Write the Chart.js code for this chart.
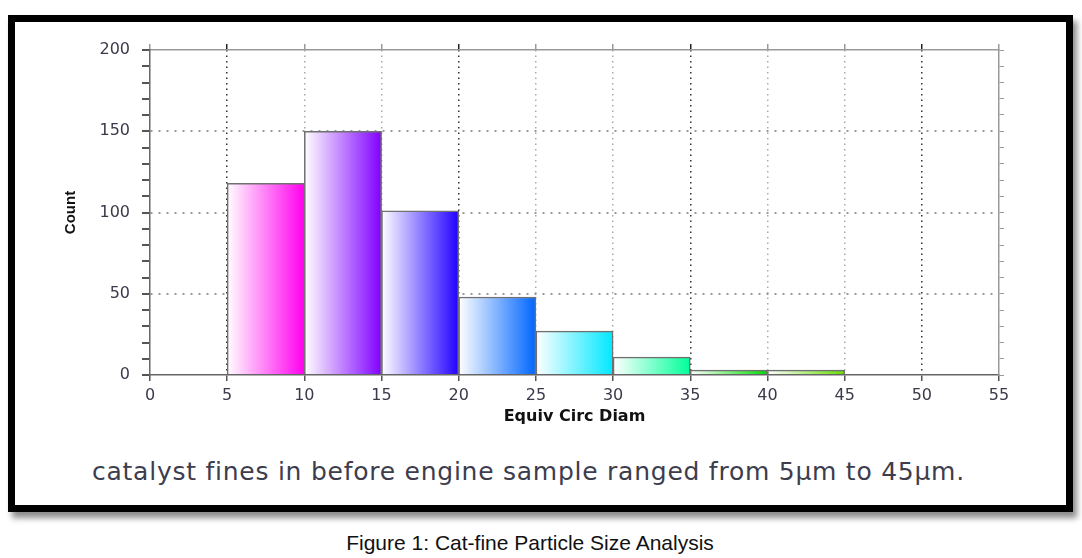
<!DOCTYPE html>
<html>
<head>
<meta charset="utf-8">
<script src="https://cdn.jsdelivr.net/npm/chart.js@4/dist/chart.umd.min.js"></script>
<style>
  body { margin: 0; background: #fff; width: 1082px; height: 558px; position: relative; overflow: hidden; }
  #frame { position: absolute; left: 8px; top: 15px; width: 1051px; height: 483px; border: 7px solid #000;
           box-shadow: 4px 6px 6px rgba(0,0,0,0.45); background: #fff; }
  #chartWrap { position: absolute; left: 0; top: 0; width: 1082px; height: 440px; }
  #note { position: absolute; left: 92px; top: 457px; font-family: "DejaVu Sans", sans-serif; font-size: 25px;
          letter-spacing: 0.75px; color: #3d3d4d; white-space: nowrap; }
  #fig { position: absolute; left: 0; width: 1060px; top: 531px; text-align: center;
         font-family: "Liberation Sans", Arial, sans-serif; font-size: 21px; color: #111; }
</style>
</head>
<body>
<div id="frame"></div>
<div id="chartWrap"><canvas id="histChart" width="1082" height="440"></canvas></div>
<div id="note">catalyst fines in before engine sample ranged from 5µm to 45µm.</div>
<div id="fig">Figure 1: Cat-fine Particle Size Analysis</div>
<script>
// histogram bins (µm) and particle counts
const binStart = [5, 10, 15, 20, 25, 30, 35, 40];
const binWidth = 5;
const counts = [118, 150, 101, 48, 27, 11, 3, 3];
const barColors = ['#ff00ee', '#8000ff', '#2200ff', '#0066ff', '#00e8ff', '#00ff99', '#00dd00', '#66dd00'];
const xTicks = [0, 5, 10, 15, 20, 25, 30, 35, 40, 45, 50, 55];
const yLabels = [0, 50, 100, 150, 200];

const tickFont = { family: 'DejaVu Sans', size: 16 };
const labelColor = '#3a3a4a';
const clear = 'rgba(0,0,0,0)';

// horizontal gradient white -> bin colour
function barFill(c) {
    const chart = c.chart;
    if (!chart.chartArea || c.dataIndex === undefined) return barColors[0];
    const xs = chart.scales.x;
    const i = c.dataIndex;
    const x0 = xs.getPixelForValue(binStart[i]);
    const x1 = xs.getPixelForValue(binStart[i] + binWidth);
    const g = chart.ctx.createLinearGradient(x0, 0, x1, 0);
    g.addColorStop(0, '#ffffff');
    g.addColorStop(1, barColors[i]);
    return g;
}

function tickVal(c) {
    return c.tick ? c.tick.value : null;
}

const ctx = document.getElementById('histChart').getContext('2d');
new Chart(ctx, {
    type: 'bar',
    data: {
        datasets: [{
            data: binStart.map((s, i) => ({ x: s + binWidth / 2, y: counts[i] })),
            backgroundColor: barFill,
            borderColor: '#707070',
            borderWidth: 1.5,
            borderSkipped: 'bottom',
            barPercentage: 1,
            categoryPercentage: 1
        }]
    },
    options: {
        responsive: false,
        animation: false,
        layout: { padding: { top: 50, left: 0, right: 0, bottom: 0 } },
        plugins: { legend: { display: false }, tooltip: { enabled: false } },
        scales: {
            x: {
                type: 'linear',
                offset: false,
                min: 0, max: 55,
                afterBuildTicks: s => { s.ticks = xTicks.map(v => ({ value: v })); },
                afterFit: s => { s.height = 65; },
                ticks: { font: tickFont, color: labelColor, padding: 5, maxRotation: 0, autoSkip: false },
                grid: {
                    offset: false,
                    color: c => {
                        const v = tickVal(c);
                        if (v === null || v === 0 || v === 55) return clear;
                        return (v - 5) % 15 === 0 ? '#333' : '#aaa';
                    },
                    tickColor: '#555',
                    tickLength: 6,
                    lineWidth: 1.5
                },
                border: { color: '#666', width: 1.5, dash: [1.5, 4] },
                title: {
                    display: true, text: 'Equiv Circ Diam', color: '#111',
                    font: { family: 'DejaVu Sans', size: 16, weight: 'bold' },
                    padding: { top: 0, bottom: 14 }
                }
            },
            x2: {
                type: 'linear', position: 'top',
                offset: false,
                min: 0, max: 55,
                afterBuildTicks: s => { s.ticks = xTicks.map(v => ({ value: v })); },
                afterFit: s => { s.height = 0; },
                ticks: { display: false, autoSkip: false },
                grid: {
                    offset: false,
                    drawOnChartArea: false, tickLength: 6, lineWidth: 1.5,
                    tickColor: c => {
                        const v = tickVal(c);
                        return (v !== null && (v - 5) % 15 === 0) ? '#222' : '#999';
                    }
                },
                border: { color: '#999', width: 1.5 }
            },
            y: {
                min: 0, max: 200,
                ticks: {
                    stepSize: 10, font: tickFont, color: labelColor, padding: 12, autoSkip: false,
                    callback: v => yLabels.includes(v) ? v : ''
                },
                afterFit: s => { s.width = 150; },
                grid: {
                    color: c => {
                        const v = tickVal(c);
                        return (v !== null && v % 50 === 0 && v > 0 && v < 200) ? '#999' : clear;
                    },
                    tickColor: '#555',
                    tickLength: 8,
                    lineWidth: 2
                },
                border: { color: '#666', width: 1.5, dash: [2, 6] },
                title: {
                    display: true, text: 'Count', color: '#111',
                    font: { family: 'Liberation Sans', size: 15, weight: 'bold' },
                    padding: { top: 62, bottom: 0 }
                }
            },
            y2: {
                position: 'right',
                min: 0, max: 200,
                ticks: { display: false, stepSize: 10, autoSkip: false },
                afterFit: s => { s.width = 83; },
                grid: { drawOnChartArea: false, tickLength: 5, tickColor: '#999', lineWidth: 1 },
                border: { color: '#999', width: 1.5 }
            }
        }
    }
});
</script>
</body>
</html>
